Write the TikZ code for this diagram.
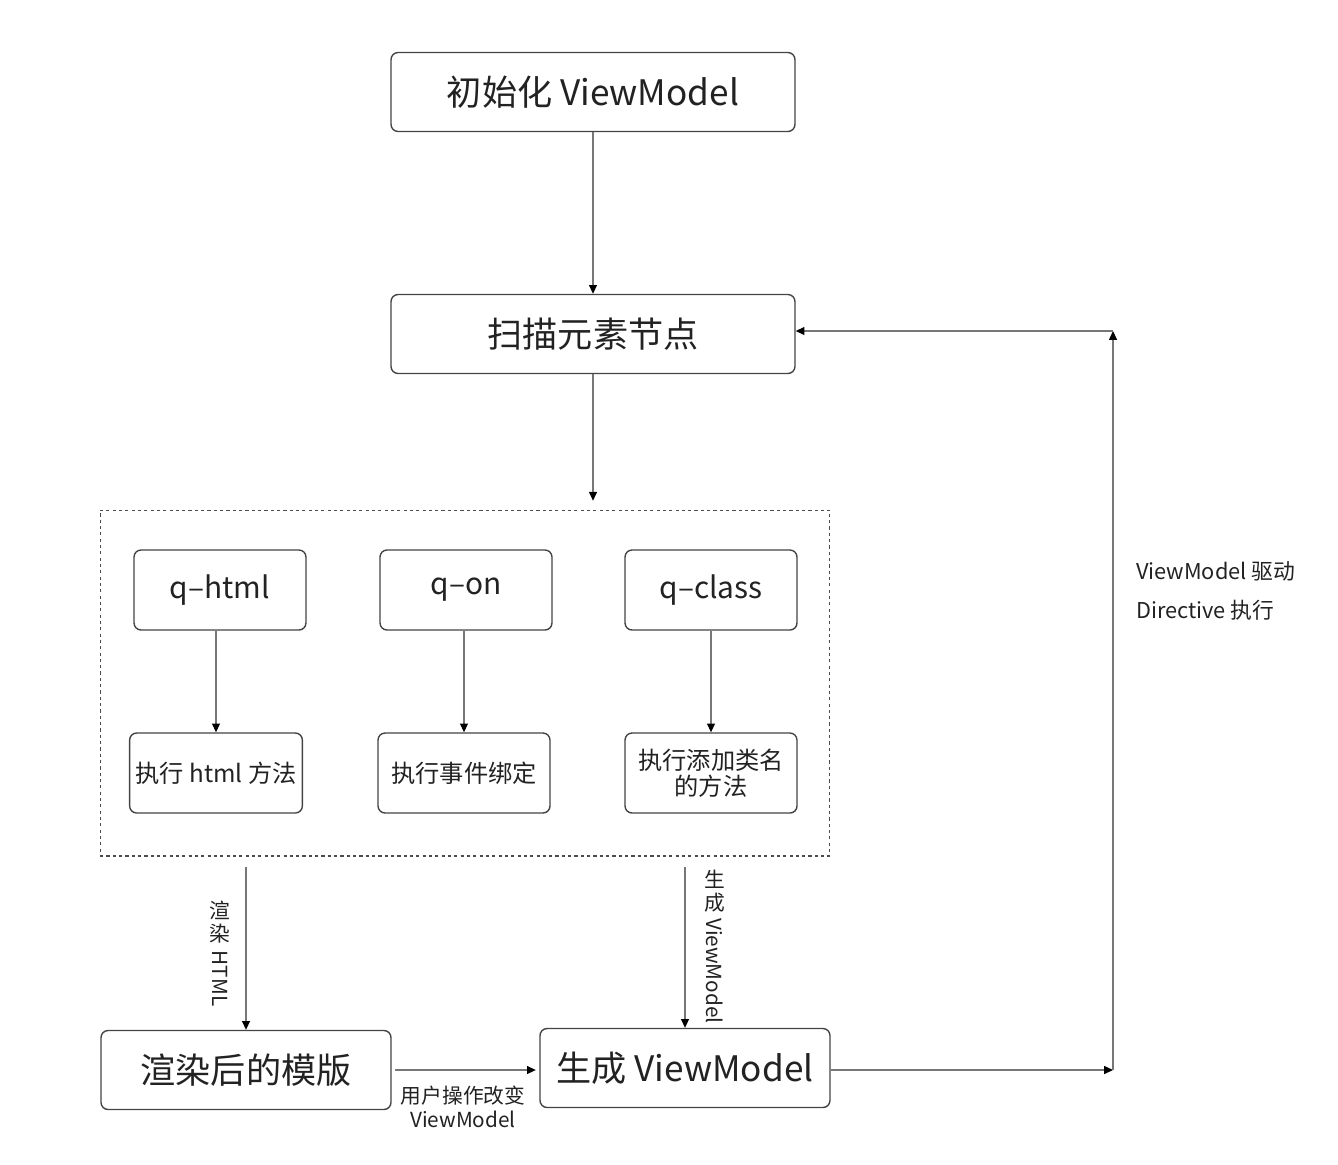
\documentclass[tikz,border=0pt]{standalone}
\usepackage{fontspec}
\setmainfont{Noto Sans CJK SC}
\usetikzlibrary{arrows.meta}
\definecolor{boxline}{HTML}{444444}
\definecolor{arrline}{HTML}{777777}
\definecolor{txt}{HTML}{222222}
\tikzset{
  big box/.style={
    rectangle,
    rounded corners=4pt,
    minimum width=8.08cm,
    minimum height=1.58cm,
    line width=0.8pt,
    draw=boxline,
    text=txt,
    font=\fontsize{20}{24}\selectfont,
  },
  out box/.style={
    big box,
    minimum width=5.8cm,
  },
  dir box/.style={
    rectangle,
    rounded corners=4pt,
    minimum width=3.44cm,
    minimum height=1.6cm,
    line width=0.8pt,
    draw=boxline,
    text=txt,
    font=\fontsize{17}{20}\selectfont,
  },
  act box/.style={
    dir box,
    align=center,
    font=\fontsize{13.8}{15}\selectfont,
  },
  group box/.style={
    rectangle,
    minimum width=14.6cm,
    minimum height=6.92cm,
    draw=black!70,
    line width=0.6pt,
    dash pattern=on 1.8pt off 1.8pt,
  },
  flow arrow/.style={
    draw=arrline,
    line width=0.7pt,
    -{Triangle[length=5pt,width=4.5pt,color=black]},
  },
  edge label/.style={
    text=txt,
    inner sep=1pt,
    align=center,
    font=\fontsize{11.8}{14}\selectfont,
  },
  side label/.style={
    edge label,
    font=\fontsize{11.8}{13}\selectfont,
  },
}

\begin{document}
\begin{tikzpicture}[x=0.02cm,y=-0.02cm]
  \useasboundingbox (0,0) rectangle (1338,1164);
  \node[big box] (init) at (593,92) {初始化 ViewModel};
  \node[big box] (scan) at (593,334) {扫描元素节点};
  \node[group box] (grp) at (465,683) {};
  \node[dir box] (qhtml) at (220,590) {q–html};
  \node[dir box] (qon) at (466,590) {q–on};
  \node[dir box] (qclass) at (711,590) {q–class};
  \node[act box] (dohtml) at (216,773) {执行 html 方法};
  \node[act box] (doon) at (464,773) {执行事件绑定};
  \node[act box] (doclass) at (711,773) {执行添加类名\\的方法};
  \node[out box] (tpl) at (246,1070) {渲染后的模版};
  \node[out box] (gen) at (685,1068) {生成 ViewModel};
  \coordinate (cornerlo) at (1113,1070);
  \coordinate (cornerhi) at (1113,331);

  \draw[flow arrow] (init) -- (scan);
  \draw[flow arrow,shorten >=5pt] (scan.south) -- (scan.south |- grp.north);
  \draw[flow arrow] (qhtml.south -| dohtml.north) -- (dohtml.north);
  \draw[flow arrow] (qon.south -| doon.north) -- (doon.north);
  \draw[flow arrow] (qclass.south) -- (qclass.south |- doclass.north);
  \draw[flow arrow,shorten <=6pt] (tpl.north |- grp.south) -- (tpl.north);
  \draw[flow arrow,shorten <=6pt] (gen.north |- grp.south) -- (gen.north);
  \draw[flow arrow,shorten <=2pt,shorten >=2pt] (tpl.east) -- (gen.west |- tpl.east);
  \draw[flow arrow] (gen.east |- cornerlo) -- (cornerlo);
  \draw[flow arrow] (cornerlo) -- (cornerhi);
  \draw[flow arrow] (cornerhi) -- (cornerhi -| scan.east);

  \node[side label,anchor=north] (lblrender) at (220,899) {渲\\染};
  \node[side label,rotate=-90,anchor=west] (lblhtml) at ([yshift=-2pt]lblrender.south) {HTML};
  \node[side label,anchor=north] (lblgen) at (715,868) {生\\成};
  \node[side label,rotate=-90,anchor=west] (lblvm) at ([yshift=-1pt]lblgen.south) {ViewModel};
  \node[edge label] (lbluser) at (463,1107) {用户操作改变\\ViewModel};
  \node[edge label,align=left,anchor=west,font=\fontsize{12.4}{22}\selectfont] (lbldrive) at (1134,591) {ViewModel 驱动\\Directive 执行};
\end{tikzpicture}
\end{document}
